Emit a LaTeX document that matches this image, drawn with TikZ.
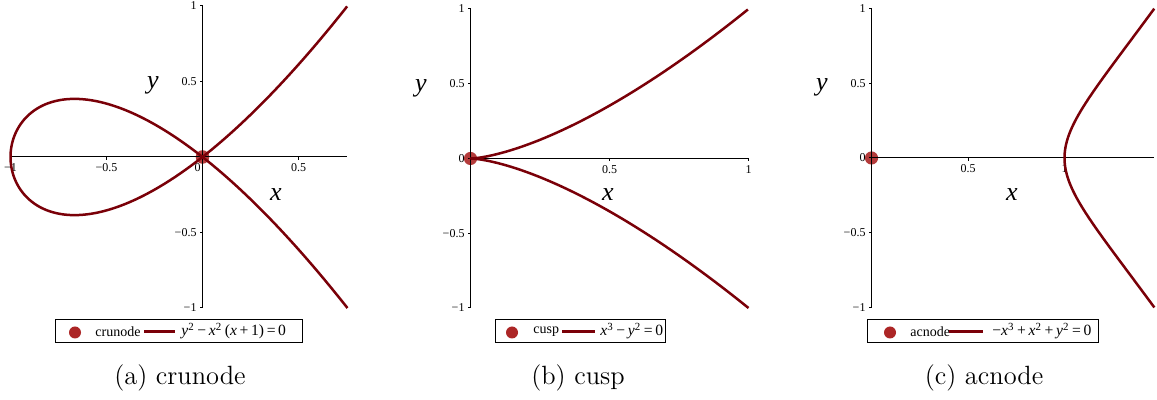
\documentclass[tikz,border=0pt]{standalone}
\usepackage{fontspec}
\newfontfamily\tms{Liberation Serif}[ItalicFont={Liberation Serif Italic}]
\newcommand\msp{\hspace{0.17em}}
\definecolor{curvec}{RGB}{122,0,8}
\definecolor{dotc}{RGB}{172,38,38}
\tikzset{
  curve/.style={draw=curvec, line width=1.25pt, line join=round},
  axisline/.style={draw=black, line width=0.5pt},
  ticklab/.style={font=\tms\fontsize{6}{7}\selectfont, inner sep=0.8pt},
  axlab/.style={font=\tms\itshape\fontsize{13}{15}\selectfont, inner sep=0pt},
  legbox/.style={draw=black, line width=0.5pt, inner sep=0pt},
  legtxt/.style={font=\tms\fontsize{7}{8}\selectfont, inner sep=0pt, anchor=west},
  legeq/.style={font=\tms\fontsize{7.8}{9}\selectfont, inner sep=0pt, anchor=west},
  legline/.style={draw=curvec, line width=1.25pt},
  ptdot/.style={fill=dotc, fill opacity=0.9},
  capt/.style={font=\fontsize{13.2}{16}\selectfont, inner sep=0pt}
}
\begin{document}
\begin{tikzpicture}[x=0.5pt,y=-0.5pt]
\useasboundingbox (0,0) rectangle (1157,400);

% ---------------- Panel (a) crunode ----------------
\begin{scope}[shift={(202.5,157)}, x=96pt, y=75.5pt]
  \fill[ptdot] (0,0) circle (3.4pt);
  \coordinate (aL) at (-1,0); \coordinate (aR) at (0.755,0);
  \coordinate (aB) at (0,-1); \coordinate (aT) at (0,1);
  \draw[axisline] (aL) -- (aR);
  \draw[axisline] (aB) -- (aT);
  \foreach \v/\l in {1/1, 0.5/0.5, -0.5/−0.5, -1/−1} {
    \draw[axisline] (0,\v) -- ++(-1.5pt,0);
    \node[ticklab, anchor=east] (ay\l) at ([xshift=-2pt]0,\v) {\l};
  }
  \foreach \v/\l in {-1/−1, -0.5/−0.5, 0.5/0.5} {
    \draw[axisline] (\v,0) -- ++(0,-1.5pt);
    \node[ticklab, anchor=north] (ax\l) at ([yshift=-2.5pt]\v,0) {\l};
  }
  \node[ticklab, anchor=north] (ax0) at ([xshift=-2.5pt,yshift=-2.5pt]0,0) {0};
  \draw[curve] plot[domain=-1.3248:1.3248, samples=201, smooth, variable=\t] ({\t*\t-1},{\t*(\t*\t-1)});
\end{scope}
\node[axlab] (ya) at (153,85) {y};
\node[axlab] (xa) at (276,195) {x};

% ---------------- Panel (b) cusp ----------------
\begin{scope}[shift={(470.5,158.5)}, x=139pt, y=74.75pt]
  \fill[ptdot] (0,0) circle (3.3pt);
  \coordinate (bL) at (0,0); \coordinate (bR) at (1,0);
  \coordinate (bB) at (0,-1); \coordinate (bT) at (0,1);
  \draw[axisline] (bL) -- (bR);
  \draw[axisline] (bB) -- (bT);
  \foreach \v/\l in {1/1, 0.5/0.5, 0/0, -0.5/−0.5, -1/−1} {
    \draw[axisline] (0,\v) -- ++(-1.5pt,0);
    \node[ticklab, anchor=east] (by\l) at ([xshift=-2pt]0,\v) {\l};
  }
  \foreach \v/\l in {0.5/0.5, 1/1} {
    \draw[axisline] (\v,0) -- ++(0,-1.5pt);
    \node[ticklab, anchor=north] (bx\l) at ([yshift=-2.5pt]\v,0) {\l};
  }
  \draw[curve] plot[domain=-1:1, samples=201, smooth, variable=\t] ({\t*\t},{\t*\t*\t});
\end{scope}
\node[axlab] (yb) at (421,88) {y};
\node[axlab] (xb) at (608,195) {x};

% ---------------- Panel (c) acnode ----------------
\begin{scope}[shift={(871.5,158)}, x=96.5pt, y=74.75pt]
  \fill[ptdot] (0,0) circle (3.3pt);
  \coordinate (cL) at (0,0); \coordinate (cR) at (1.4656,0);
  \coordinate (cB) at (0,-1); \coordinate (cT) at (0,1);
  \draw[axisline] (cL) -- (cR);
  \draw[axisline] (cB) -- (cT);
  \foreach \v/\l in {1/1, 0.5/0.5, 0/0, -0.5/−0.5, -1/−1} {
    \draw[axisline] (0,\v) -- ++(-1.5pt,0);
    \node[ticklab, anchor=east] (cy\l) at ([xshift=-2pt]0,\v) {\l};
  }
  \foreach \v/\l in {0.5/0.5, 1/1} {
    \draw[axisline] (\v,0) -- ++(0,-1.5pt);
    \node[ticklab, anchor=north] (cx\l) at ([yshift=-2.5pt]\v,0) {\l};
  }
  \draw[curve] plot[domain=-0.6823:0.6823, samples=201, smooth, variable=\t] ({\t*\t+1},{\t*(\t*\t+1)});
\end{scope}
\node[axlab] (yc) at (822,87) {y};
\node[axlab] (xc) at (1012,195) {x};

% ---------------- Legends ----------------
\node[legbox, minimum width=123.5pt, minimum height=11.5pt] (lga) at (178.5,331.5) {};
\fill[dotc] (75,332.5) circle (3pt);
\node[legtxt] (lgat) at (95,332) {crunode};
\coordinate (lga1) at (144,331.5); \coordinate (lga2) at (175,331.5);
\draw[legline] (lga1) -- (lga2);
\node[legeq] (lgae) at (181,331) {\textit{y}\textsuperscript{2}\msp−\msp\textit{x}\textsuperscript{2}\msp(\textit{x}\msp+\msp1)\msp=\msp0};

\node[legbox, minimum width=85pt, minimum height=11.5pt] (lgb) at (580,331.5) {};
\fill[dotc] (512,332.5) circle (3pt);
\node[legtxt] (lgbt) at (533,332) {cusp};
\coordinate (lgb1) at (562,331.5); \coordinate (lgb2) at (595,331.5);
\draw[legline] (lgb1) -- (lgb2);
\node[legeq] (lgbe) at (600,331) {\textit{x}\textsuperscript{3}\msp−\msp\textit{y}\textsuperscript{2}\msp=\msp0};

\node[legbox, minimum width=115.5pt, minimum height=11.5pt] (lgc) at (982.5,331.5) {};
\fill[dotc] (890,332.5) circle (3pt);
\node[legtxt] (lgct) at (910,332) {acnode};
\coordinate (lgc1) at (949,331.5); \coordinate (lgc2) at (983,331.5);
\draw[legline] (lgc1) -- (lgc2);
\node[legeq] (lgce) at (992,331) {−\textit{x}\textsuperscript{3}\msp+\msp\textit{x}\textsuperscript{2}\msp+\msp\textit{y}\textsuperscript{2}\msp=\msp0};

% ---------------- Captions ----------------
\node[capt] (capa) at (180,378) {(a) crunode};
\node[capt] (capb) at (578,378) {(b) cusp};
\node[capt] (capc) at (984,378) {(c) acnode};
\end{tikzpicture}
\end{document}
